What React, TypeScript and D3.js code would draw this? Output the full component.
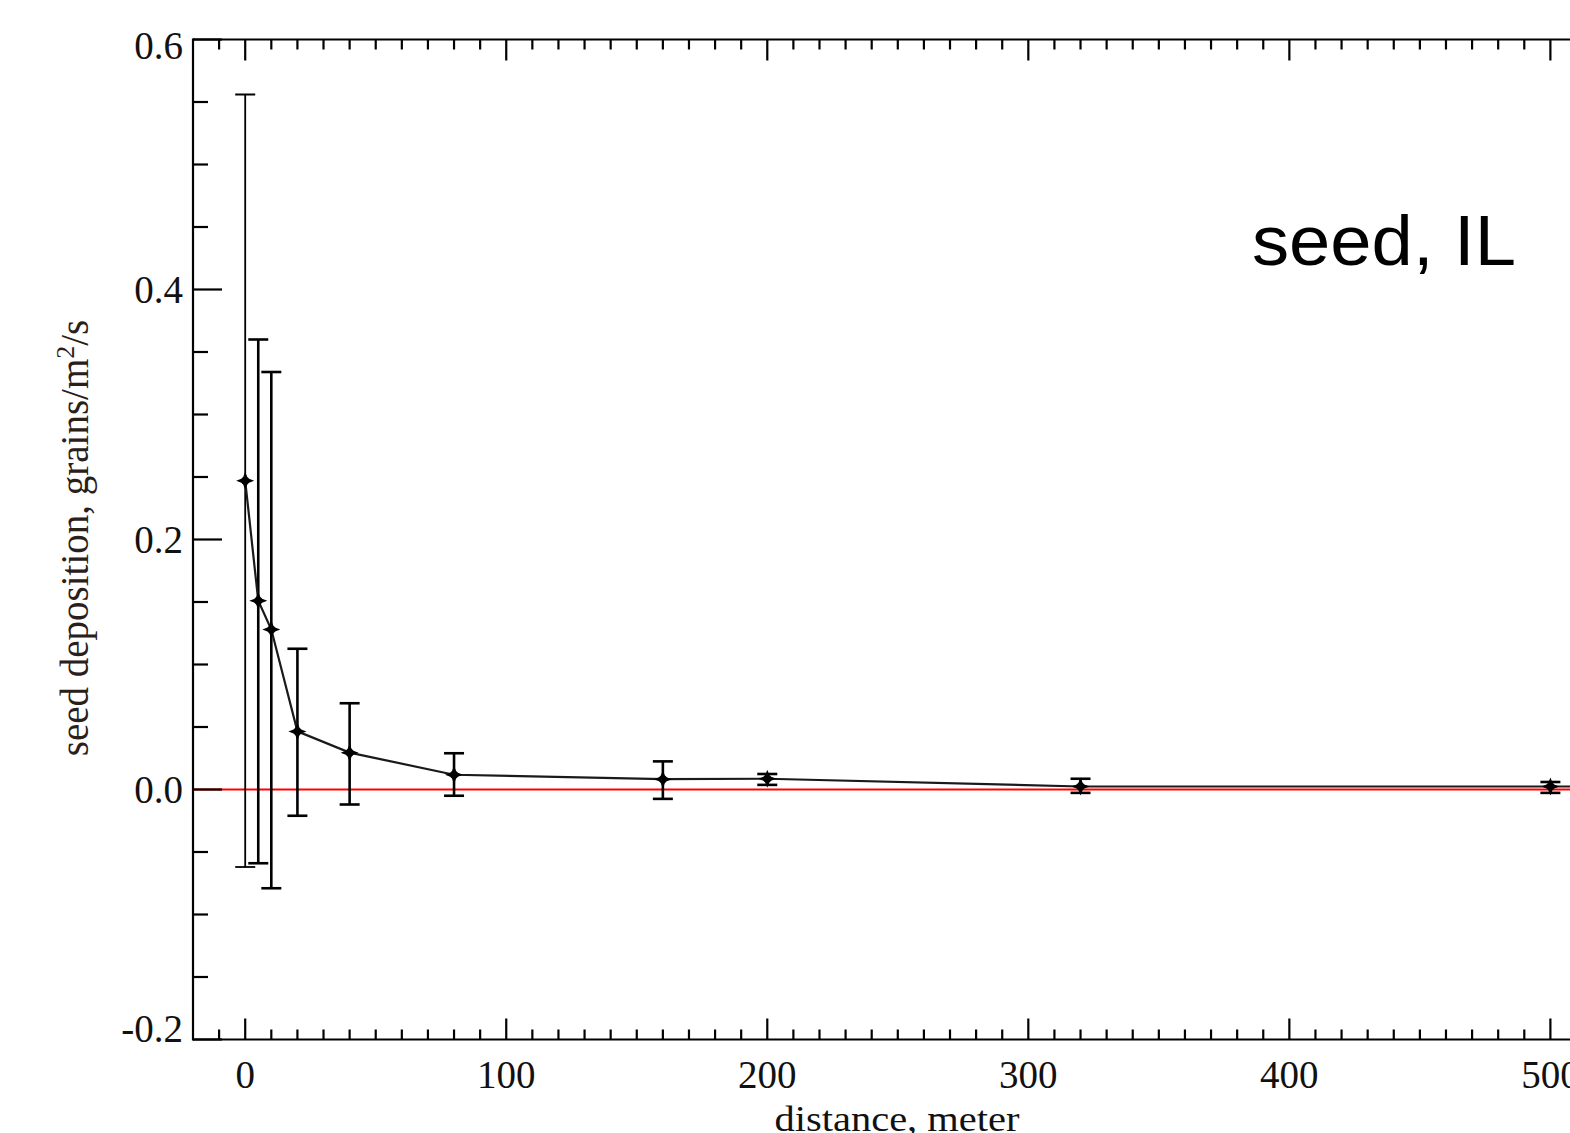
import React from "react";
import * as d3 from "d3";

const distances = [0, 5, 10, 20, 40, 80, 160, 200, 320, 500, 640];
const deposition = [0.247, 0.151, 0.128, 0.0465, 0.0295, 0.0118, 0.0083, 0.0086, 0.0024, 0.0024, 0.0024];
const errLow = [-0.062, -0.059, -0.079, -0.021, -0.012, -0.005, -0.0075, 0.0037, -0.0027, -0.0027, -0.0027];
const errHigh = [0.556, 0.36, 0.334, 0.1126, 0.069, 0.029, 0.0225, 0.0124, 0.0086, 0.006, 0.006];
const xTickValues = [0, 100, 200, 300, 400, 500];
const yTickValues = [-0.2, 0.0, 0.2, 0.4, 0.6];
const xTitle = "distance, meter";
const yTitle = "seed deposition, grains/m";
const panelLabel = "seed, IL";

const W = 1570;
const H = 1133;
const left = 193;
const top = 39.5;
const bottom = 1039.5;
const right = 1602.6;

export default function App() {
  const x = d3.scaleLinear().domain([-20, 520]).range([left, right]);
  const y = d3.scaleLinear().domain([-0.2, 0.6]).range([bottom, top]);

  const xMinor = d3.range(-10, 521, 10).filter((v) => v % 100 !== 0);
  const yMinor = d3
    .range(-0.15, 0.6, 0.05)
    .filter((v) => Math.abs(v - Math.round(v * 5) / 5) > 1e-6);

  const line = d3
    .line<number>()
    .x((_, i) => x(distances[i]))
    .y((d) => y(d));

  const serif = "'Liberation Serif', 'DejaVu Serif', serif";
  const star = (cx: number, cy: number, k: number) => (
    <g key={"m" + k}>
      <path
        d={`M${cx - 9},${cy} L${cx},${cy - 3.5} L${cx + 9},${cy} L${cx},${cy + 3.5} Z`}
        fill="#000"
      />
      <path
        d={`M${cx},${cy - 9} L${cx + 3.5},${cy} L${cx},${cy + 9} L${cx - 3.5},${cy} Z`}
        fill="#000"
      />
      <circle cx={cx} cy={cy} r={4} fill="#000" />
    </g>
  );

  return (
    <svg
      width={W}
      height={H}
      style={{ position: "absolute", left: 0, top: 0, background: "#fff" }}
    >
      <defs>
        <clipPath id="plotClip">
          <rect x={left} y={top} width={right - left} height={bottom - top} />
        </clipPath>
      </defs>

      {/* zero reference line */}
      <line x1={left} x2={right} y1={y(0)} y2={y(0)} stroke="#ff0000" strokeWidth={2} />

      <g clipPath="url(#plotClip)">
        {/* error bars */}
        {distances.map((d, i) => (
          <g key={"e" + i} stroke="#000" strokeWidth={i < 1 ? 1.8 : 2.6}>
            <line x1={x(d)} x2={x(d)} y1={y(errLow[i])} y2={y(errHigh[i])} />
            <line x1={x(d) - 10} x2={x(d) + 10} y1={y(errLow[i])} y2={y(errLow[i])} />
            <line x1={x(d) - 10} x2={x(d) + 10} y1={y(errHigh[i])} y2={y(errHigh[i])} />
          </g>
        ))}
        {/* mean line */}
        <path d={line(deposition) || ""} fill="none" stroke="#1a1a1a" strokeWidth={2.2} />
        {distances.map((d, i) => star(x(d), y(deposition[i]), i))}
      </g>

      {/* frame */}
      <g stroke="#000" strokeWidth={2.2} fill="none">
        <line x1={left} x2={right} y1={top} y2={top} />
        <line x1={left} x2={right} y1={bottom} y2={bottom} />
        <line x1={left} x2={left} y1={top - 1} y2={bottom + 1} />
        <line x1={right} x2={right} y1={top} y2={bottom} />
      </g>

      {/* ticks */}
      <g stroke="#000" strokeWidth={2.2}>
        {xTickValues.map((v) => (
          <g key={"xt" + v}>
            <line x1={x(v)} x2={x(v)} y1={bottom} y2={bottom - 21} />
            <line x1={x(v)} x2={x(v)} y1={top} y2={top + 21} />
          </g>
        ))}
        {xMinor.map((v) => (
          <g key={"xm" + v}>
            <line x1={x(v)} x2={x(v)} y1={bottom} y2={bottom - 10} />
            <line x1={x(v)} x2={x(v)} y1={top} y2={top + 10} />
          </g>
        ))}
        {yTickValues.map((v) => (
          <line key={"yt" + v} x1={left} x2={left + 29} y1={y(v)} y2={y(v)} />
        ))}
        {yMinor.map((v, i) => (
          <line key={"ym" + i} x1={left} x2={left + 15} y1={y(v)} y2={y(v)} />
        ))}
      </g>

      {/* tick labels */}
      <g fontFamily={serif} fontSize={39} fill="#111">
        {xTickValues.map((v) => (
          <text key={"xl" + v} x={x(v)} y={1088} textAnchor="middle">
            {String(v)}
          </text>
        ))}
        {yTickValues.map((v, i) => (
          <text
            key={"yl" + v}
            x={183}
            y={y(v) + (i === yTickValues.length - 1 ? 6 : i === 0 ? -11 : 0)}
            dy="0.35em"
            textAnchor="end"
          >
            {v.toFixed(1)}
          </text>
        ))}
      </g>

      {/* axis titles */}
      <text
        x={897}
        y={1131}
        textAnchor="middle"
        fontFamily={serif}
        fontSize={36}
        fill="#111"
        textLength={245}
        lengthAdjust="spacingAndGlyphs"
      >
        {xTitle}
      </text>
      <text
        transform={`translate(88, 538) rotate(-90)`}
        textAnchor="middle"
        fontFamily={serif}
        fontSize={39}
        fill="#2a2018"
      >
        {yTitle}
        <tspan dy={-14} fontSize={26}>2</tspan>
        <tspan dy={14}>/s</tspan>
      </text>

      {/* panel label */}
      <text
        x={1252}
        y={265}
        fontFamily="'Liberation Sans', Arial, sans-serif"
        fontSize={70}
        fill="#000"
        textLength={264}
        lengthAdjust="spacingAndGlyphs"
      >
        {panelLabel}
      </text>
    </svg>
  );
}
